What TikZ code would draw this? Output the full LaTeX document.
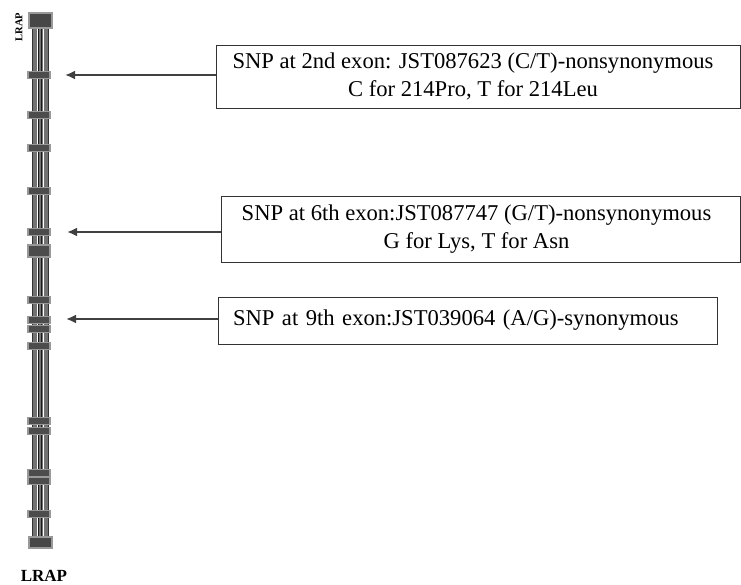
\documentclass[tikz,border=0pt]{standalone}
\usepackage{fontspec}
\setmainfont{Liberation Serif}
\usetikzlibrary{arrows.meta}
\begin{document}
\begin{tikzpicture}[x=1pt,y=-1pt,
  snpbox/.style={draw=black!80, line width=0.8pt, font=\fontsize{22.6}{28}\selectfont, inner sep=0pt},
  arr/.style={draw=black!75, line width=2pt, -{Latex[length=10pt,width=9pt]}},
  exon/.style={fill=black!70, draw=black!40, line width=1.6pt},
  endbox/.style={fill=black!72, draw=black!40, line width=1.6pt}
]
\useasboundingbox (0,0) rectangle (741,585);
% chromosome bar
\filldraw[fill=black!55, draw=black!80, line width=0.9pt] (32,14) rectangle (48,547);
\draw[white, line width=1pt] (37,14) -- (37,547) (43.5,14) -- (43.5,547);
\draw[black!90, line width=1.3pt] (38.8,14) -- (38.8,547) (41.8,14) -- (41.8,547);
% exons
\foreach \y in {75,115,148,191,232,300,320,329,346,421,431,473,481,514}
  \filldraw[exon] (28,\y-3.5) rectangle (50,\y+3.5);
\filldraw[exon] (28,245) rectangle (50,257);
\filldraw[endbox] (29,13) rectangle (52,28);
\filldraw[endbox] (29,537) rectangle (52,548);
% labels
\node[rotate=90, font=\bfseries\fontsize{10.5}{10.5}\selectfont, inner sep=0pt] (toplab) at (19,27) {LRAP};
\node[font=\bfseries\fontsize{17}{17}\selectfont, inner sep=0pt] (lrap) at (44,576) {LRAP};
% SNP boxes
\node[snpbox, align=center, minimum width=524pt, minimum height=63pt] (b1) at (478,76.5)
  {SNP at 2nd exon: JST087623 (C/T)-nonsynonymous\hspace*{10pt}\\C for 214Pro, T for 214Leu\hspace*{10pt}};
\node[snpbox, align=center, minimum width=519pt, minimum height=66pt] (b2) at (480.5,229)
  {SNP at 6th exon:JST087747 (G/T)-nonsynonymous\hspace*{8pt}\\G for Lys, T for Asn\hspace*{8pt}};
\node[snpbox, align=left, text width=469pt, inner xsep=15pt, minimum height=47pt] (b3) at (467.5,320.5)
  {SNP at 9th exon:JST039064 (A/G)-synonymous};
% arrows
\coordinate (t1) at (65,75);
\coordinate (t2) at (67,232);
\coordinate (t3) at (66,319);
\draw[arr] (b1.west |- t1) -- (t1);
\draw[arr] (b2.west |- t2) -- (t2);
\draw[arr] (b3.west |- t3) -- (t3);
\end{tikzpicture}
\end{document}
